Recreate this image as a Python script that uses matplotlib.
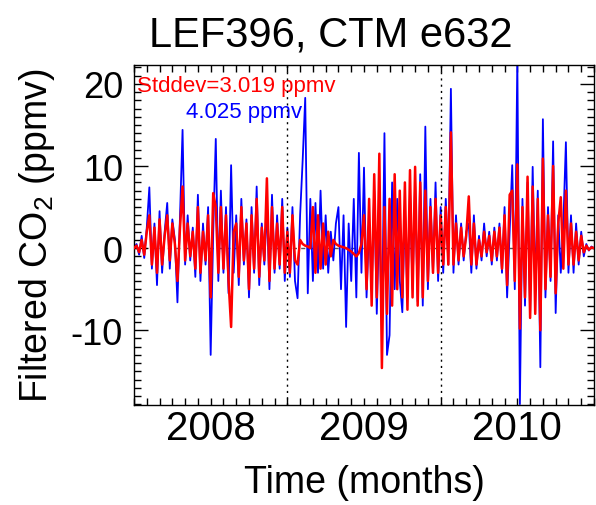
import numpy as np
import matplotlib
matplotlib.use("Agg")
import matplotlib.pyplot as plt
from matplotlib.ticker import MultipleLocator, FixedLocator

plt.rcParams['font.family'] = ['Liberation Sans', 'DejaVu Sans']
plt.rcParams['mathtext.default'] = 'regular'
plt.rcParams['axes.unicode_minus'] = False

# time axis in months since start (one value every 0.2 month)
months = np.arange(181) * 0.2

obs = [0, 0.5, -0.8, 1.5, -1.2, 2.5, 7.4, -2.5, 3, -4.5,
       4.5, -3, 2, 5.5, -2.5, 3.5, 1, -6.6, 4, 14.4,
       -2, 4, -1.5, 2.5, -3.5, 6.5, -4, 3, -2, 5,
       -13, 2, 13.3, -4, 7, -3, 5, -5.5, 10.1, -3,
       4, -4.5, 6, -2, 3.5, -6, 5, -3, 7.5, -4.5,
       3, -2, 5, -5, 6.5, -3, 4, -2.5, 6, -4,
       2.5, -3.5, 5, -4, -6.1, 4, 10.7, 18.3, -5.5, 6,
       -4, 5.5, -3, 7, -2.5, 4, -3, 2, -1.5, 3,
       5, -5, 4, -9.6, 3, -4, 6, -6, 11.6, -3,
       9.8, -6, 3, -5, 7, -8, 4, -10, 14, -13,
       -10.6, 8, -5, 6, -4, -7.8, 5, -6, 7, -5,
       8, -6.5, 9, -7, 14.8, -5, 6, -3, 8, -4,
       5, -3, 6, -2, 19.4, -3, 4, -2, 3, -1.5,
       2, 3, -3, 4, -2.5, 1.5, -1.5, 3, -1, 2,
       -2, 2.5, -1.5, 3, -3, 5, -6, 2, 10.1, -5,
       23, -19, 6, -7, 8, -8, 9.9, -5, 7, -14.5,
       15.7, -6, 5, -4, 13, -7.9, 4, -3, 3, 12.9,
       -3, 4, -3, 3, -2, 2, -1, 0.5, -0.3, 0.2, 0]

# model filtered CO2 (red)
mod = [0, 0.3, -0.5, 1, -0.8, 2, 4, -2, 2.5, -3,
       3.5, -2, 1.5, 4, -1.5, 3, 0.5, -4, 2.5, 7.5,
       -1.5, 3, -1, 2, -2.5, 5, -3, 2, -1.5, 4,
       -6, 6.7, 5, -3, 5, -2.5, 4, -4, -9.6, 2,
       3, -3.5, 5, -1.5, 3, -5, 4, -2.5, 6, -3.5,
       2.5, -1.5, 8.5, -4, 5, -2.5, 3, -2, 5, -3,
       2, -3, 4, -1.5, -2, 1, 0.5, 0.3, 0.2, 0,
       5, -3, 4, -2.5, 3, -2, 2, -1, 1, 0.5,
       0.3, 0.2, 0.1, 0, -0.2, -0.4, -0.7, -1, -0.6, 0.5,
       4, -5, 6, -7, 9, -6, 11.5, -14.6, 5, -8,
       6, -7, 9, -5, 7, -6, 8, -7.5, 9.5, -6,
       9.9, -7, 8, -6, 7, -4, 5, -3, 6, -3,
       4, -2, 5, -2, 14.1, -2, 3, -1.5, 2.5, -1,
       1.5, 6.3, -2, 3, -2, 1, -1, 2, -0.5, 1.5,
       -1.5, 2, -1, 2.5, -2.5, 4, -4.5, 6.5, 7, -4,
       10.2, -9.8, 5, -6, 8.7, -8.5, 7.5, -8, 6, -10,
       10.9, -5, 4, -3.5, 10, -5.5, 3, 6.2, -2.5, 7,
       -2, 3, -2, 2, -1.5, 1.5, -0.5, 0.3, -0.2, 0.1, 0]

year_pos = [6, 18, 30]
year_lab = ['2008', '2009', '2010']
year_bounds = [12, 24]

fig = plt.figure(figsize=(5.96, 5.06), dpi=100)
ax = fig.add_axes([134/596, 1-406/506, 460/596, 340/506])

ax.axhline(0, color='#555555', lw=1, ls=(0, (3, 3)), zorder=1)
ax.plot(months, obs, color='#0000ff', lw=1.3, zorder=2)
ax.plot(months, mod, color='#ff0000', lw=1.8, zorder=3)
for b in year_bounds:
    ax.axvline(b, color='black', lw=1, ls=(0, (1.5, 3)), zorder=4)

ax.set_xlim(0, 36)
ax.set_ylim(-19.1, 22.3)
ax.xaxis.set_major_locator(FixedLocator(year_pos))
ax.set_xticklabels(year_lab)
ax.xaxis.set_minor_locator(MultipleLocator(1))
ax.yaxis.set_major_locator(MultipleLocator(10))
ax.yaxis.set_minor_locator(MultipleLocator(1))
ax.tick_params(which='both', direction='in', top=True, right=True, width=1)
ax.tick_params(axis='y', which='major', length=10, pad=8, labelsize=26)
ax.tick_params(axis='y', which='minor', length=5)
ax.tick_params(axis='x', which='both', length=5, pad=3, labelsize=29)
for s in ax.spines.values():
    s.set_linewidth(1)

ax.set_xlabel('Time (months)', fontsize=27, labelpad=12)
ax.set_ylabel('Filtered CO$_2$ (ppmv)', fontsize=27, labelpad=10)

ax.text(0.007, 0.941, 'Stddev=3.019 ppmv', transform=ax.transAxes, color='#ff0000',
        fontsize=16, ha='left', va='center')
ax.text(0.113, 0.862, '4.025 ppmv', transform=ax.transAxes, color='#0000ff',
        fontsize=16, ha='left', va='center')

fig.text(331/596, 1-35/506, 'LEF396, CTM e632', fontsize=30, ha='center', va='center')

fig.savefig('out.png', dpi=100)
